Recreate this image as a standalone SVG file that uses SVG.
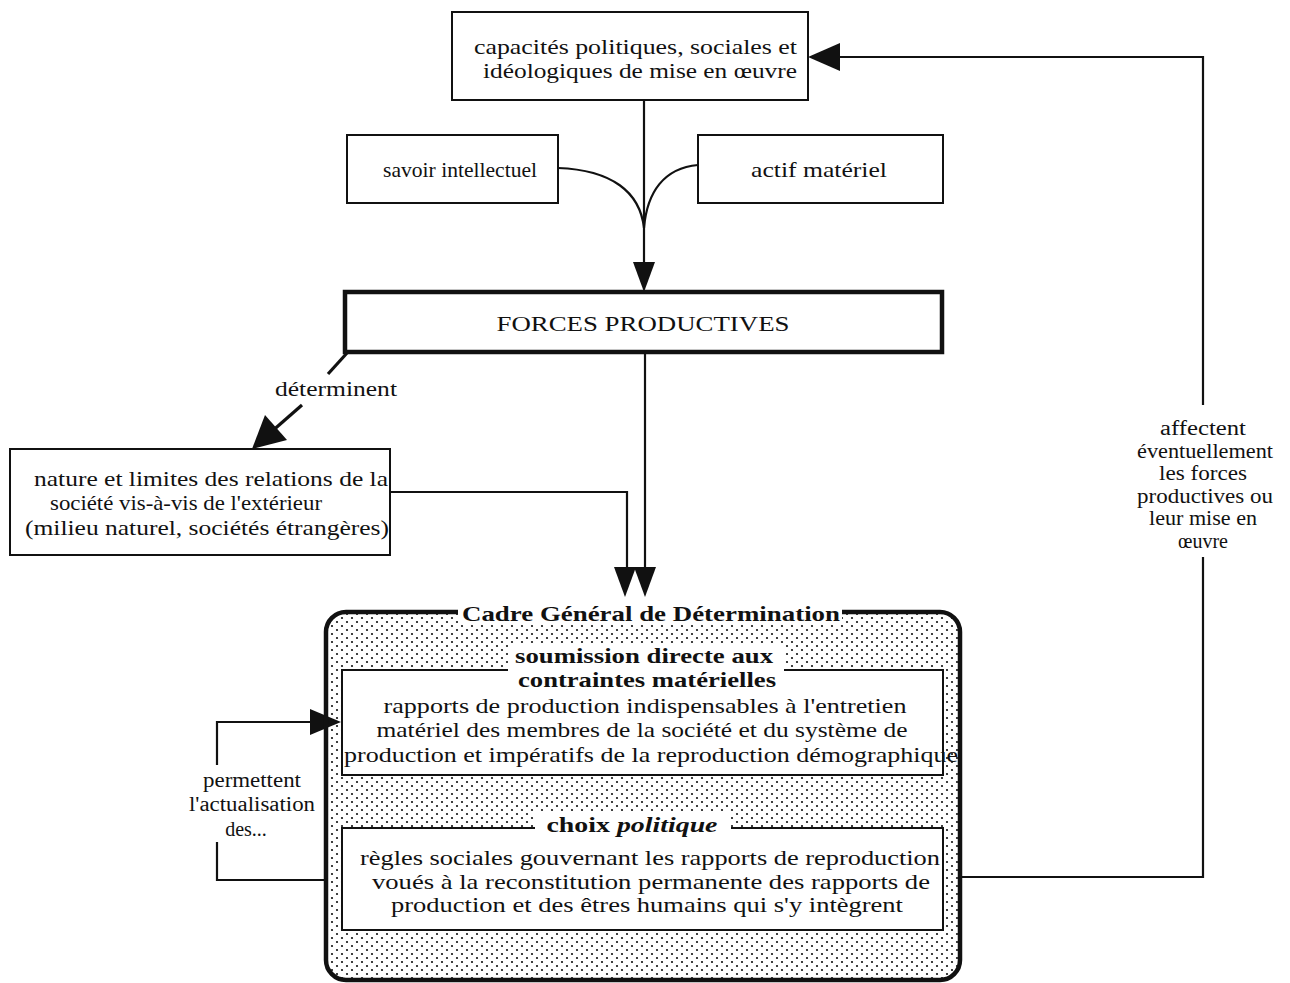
<svg xmlns="http://www.w3.org/2000/svg" width="1290" height="983" viewBox="0 0 1290 983">
  <defs>
    <pattern id="dots" width="10" height="8" patternUnits="userSpaceOnUse">
      <circle cx="2" cy="2" r="1.1" fill="#111"/>
      <circle cx="7" cy="6" r="1.1" fill="#111"/>
    </pattern>
    <style>
      text { font-family: "Liberation Serif", "DejaVu Serif", serif; font-size: 22px; fill: #111; }
      .c { text-anchor: middle; }
      .e { text-anchor: end; }
      .b { font-weight: bold; }
      .lbl { font-size: 20px; }
      .box { fill: #fff; stroke: #111; stroke-width: 2; }
      .thick { stroke-width: 4.5; }
      .line { fill: none; stroke: #111; stroke-width: 2.2; }
      .bold-line { stroke-width: 3.2; }
      .head { fill: #111; stroke: none; }
    </style>
  </defs>

  <rect width="1290" height="983" fill="#fff"/>

  <!-- connectors -->
  <g id="connectors">
    <!-- capacités -> forces productives, joined by the two inputs -->
    <path class="line" d="M644,100 V264"/>
    <path class="line" d="M558,168 C612,170 640,192 644,228"/>
    <path class="line" d="M698,165 C664,168 647,192 644,228"/>
    <polygon class="head" points="633,262 655,262 644,292"/>

    <!-- forces productives -> cadre -->
    <path class="line" d="M645,352 V570"/>
    <polygon class="head" points="634,567 656,567 645,597"/>

    <!-- nature et limites -> cadre -->
    <path class="line" d="M390,492 H627 V570"/>
    <polygon class="head" points="614,567 636,567 625,597"/>

    <!-- déterminent -->
    <path class="line bold-line" d="M347,353 L328,374"/>
    <path class="line bold-line" d="M302,405 L270,433"/>
    <polygon class="head" points="252,449 265,415 287,440"/>

    <!-- permettent l'actualisation des... -->
    <path class="line" d="M326,880 H217 V842"/>
    <path class="line" d="M217,765 V722 H312"/>
    <polygon class="head" points="310,709 310,735 341,722"/>

    <!-- affectent éventuellement ... -->
    <path class="line" d="M960,877 H1203 V557"/>
    <path class="line" d="M1203,405 V57 H838"/>
    <polygon class="head" points="840,43 840,71 808,57"/>
  </g>

  <!-- labels on connectors -->
  <g id="connector-labels">
    <text class="c" x="336" y="396" textLength="122" lengthAdjust="spacingAndGlyphs">déterminent</text>
    <text class="c lbl" x="252" y="787" textLength="98" lengthAdjust="spacingAndGlyphs">permettent</text>
    <text class="c lbl" x="252" y="811" textLength="126" lengthAdjust="spacingAndGlyphs">l'actualisation</text>
    <text class="c lbl" x="246" y="836">des...</text>
    <text class="c lbl" x="1203" y="435" textLength="86" lengthAdjust="spacingAndGlyphs">affectent</text>
    <text class="c lbl" x="1205" y="457.5" textLength="136" lengthAdjust="spacingAndGlyphs">éventuellement</text>
    <text class="c lbl" x="1203" y="480" textLength="88" lengthAdjust="spacingAndGlyphs">les forces</text>
    <text class="c lbl" x="1205" y="502.5" textLength="136" lengthAdjust="spacingAndGlyphs">productives ou</text>
    <text class="c lbl" x="1203" y="525" textLength="108" lengthAdjust="spacingAndGlyphs">leur mise en</text>
    <text class="c lbl" x="1203" y="547.5">œuvre</text>
  </g>

  <g id="capacites">
    <rect class="box" x="452" y="12" width="356" height="88"/>
    <text class="e" x="797" y="54" textLength="323" lengthAdjust="spacingAndGlyphs">capacités politiques, sociales et</text>
    <text class="e" x="797" y="78" textLength="314" lengthAdjust="spacingAndGlyphs">idéologiques de mise en œuvre</text>
  </g>

  <g id="savoir">
    <rect class="box" x="347" y="135" width="211" height="68"/>
    <text class="c" x="460" y="177" textLength="154" lengthAdjust="spacingAndGlyphs">savoir intellectuel</text>
  </g>

  <g id="actif">
    <rect class="box" x="698" y="135" width="245" height="68"/>
    <text class="c" x="819" y="177" textLength="136" lengthAdjust="spacingAndGlyphs">actif matériel</text>
  </g>

  <g id="forces">
    <rect class="box thick" x="345" y="292" width="597" height="60"/>
    <text class="c" x="643" y="331" textLength="293" lengthAdjust="spacingAndGlyphs">FORCES PRODUCTIVES</text>
  </g>

  <g id="nature">
    <rect class="box" x="10" y="449" width="380" height="106"/>
    <text class="c" x="211" y="486" textLength="354" lengthAdjust="spacingAndGlyphs">nature et limites des relations de la</text>
    <text class="c" x="186" y="510" textLength="272" lengthAdjust="spacingAndGlyphs">société vis-à-vis de l'extérieur</text>
    <text class="c" x="207" y="535" textLength="364" lengthAdjust="spacingAndGlyphs">(milieu naturel, sociétés étrangères)</text>
  </g>

  <g id="cadre">
    <rect x="326" y="612" width="634" height="368" rx="20" ry="20" fill="url(#dots)" stroke="#111" stroke-width="4.5"/>
    <rect x="458" y="602" width="384" height="22" fill="#fff"/>
    <text class="c b" x="651" y="621" textLength="378" lengthAdjust="spacingAndGlyphs">Cadre Général de Détermination</text>
  </g>

  <g id="contraintes">
    <rect class="box" x="342" y="670" width="601" height="105"/>
    <rect x="508" y="645" width="276" height="46" fill="#fff"/>
    <text class="c b" x="644" y="663" textLength="258" lengthAdjust="spacingAndGlyphs">soumission directe aux</text>
    <text class="c b" x="647" y="687" textLength="258" lengthAdjust="spacingAndGlyphs">contraintes matérielles</text>
    <text class="c" x="645" y="713" textLength="523" lengthAdjust="spacingAndGlyphs">rapports de production indispensables à l'entretien</text>
    <text class="c" x="642" y="737" textLength="531" lengthAdjust="spacingAndGlyphs">matériel des membres de la société et du système de</text>
    <text class="c" x="651" y="762" textLength="614" lengthAdjust="spacingAndGlyphs">production et impératifs de la reproduction démographique</text>
  </g>

  <g id="reproduction">
    <rect class="box" x="342" y="828" width="601" height="102"/>
    <rect x="535" y="813" width="196" height="22" fill="#fff"/>
    <text class="c b" x="632" y="832" textLength="171" lengthAdjust="spacingAndGlyphs">choix <tspan font-style="italic">politique</tspan></text>
    <text class="c" x="650" y="865" textLength="580" lengthAdjust="spacingAndGlyphs">règles sociales gouvernant les rapports de reproduction</text>
    <text class="c" x="651" y="889" textLength="558" lengthAdjust="spacingAndGlyphs">voués à la reconstitution permanente des rapports de</text>
    <text class="c" x="647" y="912" textLength="512" lengthAdjust="spacingAndGlyphs">production et des êtres humains qui s'y intègrent</text>
  </g>
</svg>
